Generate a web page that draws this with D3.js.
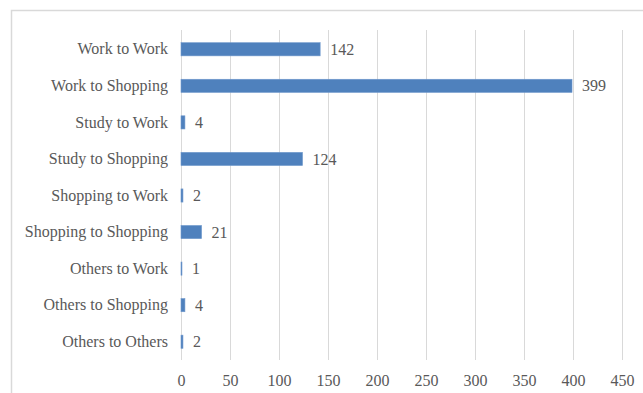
<!DOCTYPE html>
<html>
<head>
<meta charset="utf-8">
<script src="https://cdn.jsdelivr.net/npm/d3@7/dist/d3.min.js"></script>
<style>
  html, body { margin: 0; padding: 0; background: #fff; }
  svg { display: block; }
  text { font-family: "Liberation Serif", "Times New Roman", serif; fill: #595959; }
</style>
</head>
<body>
<svg id="chart" width="643" height="393"></svg>
<script>
// Trip purpose transitions and their counts
const categories = [
  "Work to Work",
  "Work to Shopping",
  "Study to Work",
  "Study to Shopping",
  "Shopping to Work",
  "Shopping to Shopping",
  "Others to Work",
  "Others to Shopping",
  "Others to Others"
];
const counts = [142, 399, 4, 124, 2, 21, 1, 4, 2];
const xTicks = [0, 50, 100, 150, 200, 250, 300, 350, 400, 450];

const width = 643, height = 393;
const margin = { top: 31, right: 21, bottom: 33, left: 181 };
const fontStack = '"Liberation Serif", "Times New Roman", serif';

const svg = d3.select("#chart");

// outer chart frame
svg.append("rect")
  .attr("x", 11.5).attr("y", 10.5)
  .attr("width", 640).attr("height", 400)
  .attr("fill", "none")
  .attr("stroke", "#d9d9d9")
  .attr("stroke-width", 1.5);

const x = d3.scaleLinear()
  .domain([0, 450])
  .range([margin.left, width - margin.right]);

const y = d3.scaleBand()
  .domain(categories)
  .range([margin.top, height - margin.bottom])
  .paddingInner(0.64)
  .paddingOuter(0.32);

// vertical gridlines
svg.append("g")
  .selectAll("line")
  .data(xTicks)
  .join("line")
  .attr("x1", d => Math.round(x(d)) + 0.5)
  .attr("x2", d => Math.round(x(d)) + 0.5)
  .attr("y1", margin.top - 1)
  .attr("y2", height - margin.bottom)
  .attr("stroke", "#d9d9d9")
  .attr("stroke-width", 1);

// x axis tick labels
const xAxis = d3.axisBottom(x).tickValues(xTicks).tickSize(0).tickPadding(0);
const gx = svg.append("g")
  .attr("transform", `translate(0, ${height - 7})`)
  .call(xAxis);
gx.select(".domain").remove();
gx.selectAll("text")
  .attr("dy", 0)
  .style("font-size", "16px")
  .style("fill", "#595959")
  .style("font-family", fontStack);

// category labels
const yAxis = d3.axisLeft(y).tickSize(0).tickPadding(13);
const gy = svg.append("g")
  .attr("transform", `translate(${margin.left}, 0)`)
  .call(yAxis);
gy.select(".domain").remove();
gy.selectAll("text")
  .style("font-size", "16px")
  .style("fill", "#595959")
  .style("font-family", fontStack);

// bars
svg.append("g")
  .selectAll("rect")
  .data(categories)
  .join("rect")
  .attr("x", x(0))
  .attr("y", d => y(d))
  .attr("width", (d, i) => x(counts[i]) - x(0))
  .attr("height", y.bandwidth())
  .attr("fill", "#4f81bd")
  .attr("stroke", "#6f98cc")
  .attr("stroke-width", 0.6);

// value labels
svg.append("g")
  .selectAll("text")
  .data(categories)
  .join("text")
  .attr("x", (d, i) => x(counts[i]) + 10)
  .attr("y", d => y(d) + y.bandwidth() / 2)
  .attr("dy", "0.35em")
  .style("font-size", "16px")
  .style("font-family", fontStack)
  .text((d, i) => counts[i]);
</script>
</body>
</html>
